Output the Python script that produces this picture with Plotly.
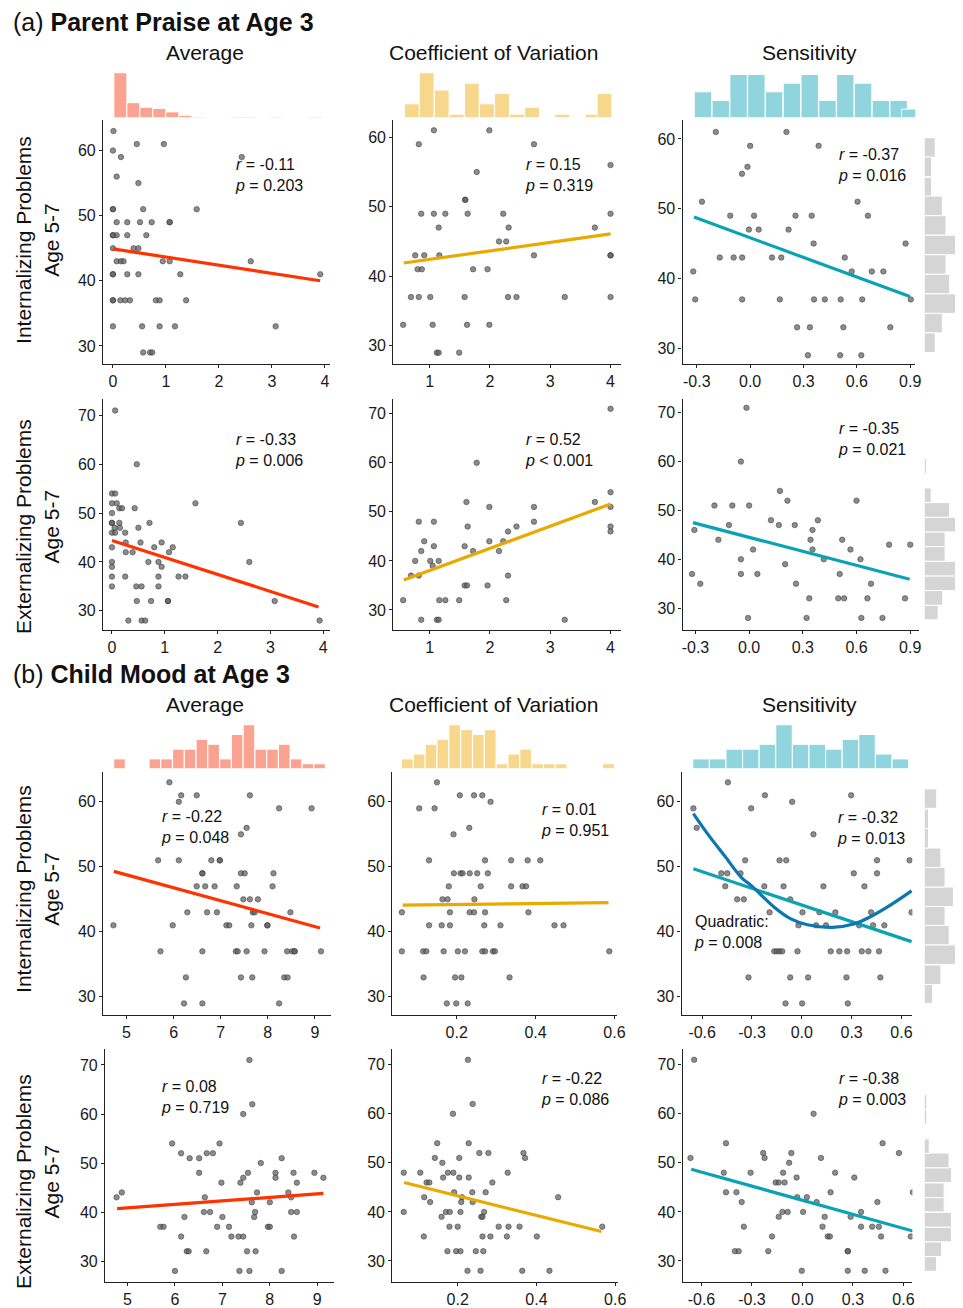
import plotly.graph_objects as go

W, H = 963, 1308
FONT = "Liberation Sans, Arial, Helvetica, sans-serif"

# ===================== DATA =====================
# (a) Parent Praise at Age 3 -- Internalizing
a_int_avg_x = [0.01,0,0.45,0.96,0.15,0.07,0.48,2.43,0,0.57,1.58,0.07,0.27,0.51,0.73,1.07,0,0.07,0.27,0.63,0,0.39,0.48,
               0.07,0.15,0.2,0.94,1.07,2.6,0,0.27,0.48,1.27,3.91,0,0.14,0.23,0.32,0.81,0.88,1.38,0,0.55,0.88,1.17,3.07,
               0.57,0.7,0.74,0,1.07,0,0,0]
a_int_avg_y = [63,60,61,61,59,56,55,59,51,51,51,49,49,49,49,49,47,47,47,47,45,45,45,43,43,43,43,43,43,41,41,41,41,41,
               37,37,37,37,37,37,37,33,33,33,33,33,29,29,29,51,49,47,41,37]
a_int_avg_fit_x = [0.0, 3.91]
a_int_avg_fit_y = [44.9, 40.0]

a_int_cv_x = [1.07,1.99,0.82,2.73,1.78,4.0,1.59,1.59,0.86,1.07,1.26,1.63,2.22,4.0,1.15,2.31,3.74,2.15,2.27,0.76,0.91,
              1.16,2.73,4.0,4.0,0.8,0.87,1.72,1.96,0.69,0.82,1.01,1.58,2.3,2.44,3.24,4.0,0.56,1.05,1.62,1.99,1.12,1.15,1.49]
a_int_cv_y = [61,61,59,59,55,56,51,51,49,49,49,49,49,49,47,47,47,45,45,43,43,43,43,43,43,41,41,41,41,37,37,37,37,37,
              37,37,37,33,33,33,33,29,29,29]
a_int_cv_fit_x = [0.57, 4.0]
a_int_cv_fit_y = [41.9, 46.1]

a_int_sen_x = [-0.193,0.204,0.0,0.385,-0.015,-0.046,-0.271,0.604,-0.112,0.022,0.255,0.346,0.662,-0.007,0.048,0.216,
               0.357,0.874,-0.171,-0.093,-0.045,0.123,0.175,0.532,-0.32,0.571,0.684,0.749,-0.309,-0.045,0.167,0.359,
               0.42,0.509,0.63,0.903,0.264,0.336,0.524,0.788,0.325,0.506,0.625]
a_int_sen_y = [61,61,59,59,56,55,51,51,49,49,49,49,49,47,47,47,45,45,43,43,43,43,43,43,41,41,41,41,37,37,37,37,37,
               37,37,37,33,33,33,33,29,29,29]
a_int_sen_fit_x = [-0.316, 0.898]
a_int_sen_fit_y = [48.8, 37.4]

# (a) Externalizing
a_ext_avg_x = [0.06,0.47,0,0.06,0,0.09,0.14,0.19,0.43,0,1.58,0,0,0.14,0.71,2.44,0.05,0.15,0.5,0,0.06,0.25,0,0.26,0.54,
               0.94,0.26,0.39,0.8,1.15,1.08,0.69,0.88,2.6,0.94,0,0,0,0.25,0.88,1.26,1.39,0,0.46,0.56,0.88,0.47,0.74,
               1.06,1.06,3.08,0.31,0.56,0.63,3.93]
a_ext_avg_y = [71,60,54,54,52,52,51,51,51,50,52,48,48,48,48,48,47,47,47,46,46,46,43,44,44,44,42,42,43,43,42,40,40,40,
               39,40,39,37,37,37,37,37,35,35,35,35,32,32,32,32,32,28,28,28,28]
a_ext_avg_fit_x = [0.0, 3.91]
a_ext_avg_fit_y = [44.4, 30.8]

a_ext_cv_x = [4.0,1.78,4.0,1.61,3.74,4.0,1.99,2.73,0.82,1.07,2.73,1.63,2.44,4.0,4.0,2.3,0.91,1.07,1.58,1.99,2.22,0.86,
              1.72,2.15,0.76,1.01,1.15,1.05,0.69,0.82,2.3,1.58,1.62,1.96,0.56,1.16,1.26,1.49,2.27,0.86,1.12,1.15,3.24]
a_ext_cv_y = [71,60,54,52,52,51,51,51,48,48,48,47,47,47,46,46,44,43,43,44,44,42,42,42,40,40,40,39,37,37,37,35,35,35,
              32,32,32,32,32,28,28,28,28]
a_ext_cv_fit_x = [0.57, 4.0]
a_ext_cv_fit_y = [36.1, 51.6]

a_ext_sen_x = [-0.015,-0.046,0.172,0.214,0.6,-0.194,-0.094,0.0,0.122,0.384,-0.113,0.166,0.255,-0.306,0.354,-0.172,
               0.343,0.52,0.782,0.9,0.022,0.354,0.566,-0.046,0.417,0.622,0.201,-0.319,-0.046,0.046,0.506,-0.273,0.262,
               0.681,0.336,0.498,0.531,0.661,0.871,-0.006,0.321,0.627,0.745]
a_ext_sen_y = [71,60,54,52,52,51,51,51,48,48,47,47,47,46,46,44,44,44,43,43,42,42,42,40,40,40,39,37,37,37,37,35,35,35,
               32,32,32,32,32,28,28,28,28]
a_ext_sen_fit_x = [-0.314, 0.897]
a_ext_sen_fit_y = [47.5, 35.9]

# (a) marginal histograms (top: predictors, right: outcomes)
a_avg_hist_x = [0.14,0.385,0.63,0.875,1.12,1.365,1.61,1.855,2.10,2.345,2.59,2.835,3.08,3.325,3.57,3.815]
a_avg_hist_n = [39,13,9,8,5,2,1,0,0,1,1,0,1,0,0,1]
a_cv_hist_x = [0.706,0.95,1.2,1.45,1.7,1.95,2.2,2.45,2.7,2.95,3.2,3.45,3.7,3.9]
a_cv_hist_n = [4,13,8,1,10,4,7,1,3,0,1,0,1,7]
a_sen_hist_x = [-0.265,-0.165,-0.065,0.035,0.135,0.235,0.335,0.435,0.535,0.635,0.735,0.835,0.9]
a_sen_hist_n = [3,2,5,5,3,4,5,2,5,4,2,2,1]
a_int_hist_y = [58.76,56.0,53.1,50.4,47.6,44.8,42.0,39.2,36.4,33.6,30.8]
a_int_hist_n = [3,2,2,5,6,9,6,7,9,5,3]
a_ext_hist_y = [29.1,32.1,35.1,38.1,41.1,44.1,47.1,50.1,53.1,59.1]
a_ext_hist_n = [6,8,14,14,9,9,14,11,3,1]

# (b) Child Mood at Age 3 -- Internalizing
b_int_avg_x = [5.91,6.16,6.11,6.49,7.62,8.24,8.93,7.55,7.43,5.67,6.11,6.80,6.98,6.61,6.61,7.43,7.51,8.12,6.49,6.67,
               6.87,7.34,8.10,7.48,7.62,7.79,6.29,6.71,6.92,7.68,7.72,8.48,4.72,5.98,7.12,7.18,7.65,7.99,5.72,6.61,
               7.32,7.36,7.55,7.93,8.41,8.52,8.57,9.13,6.26,7.43,7.67,8.35,8.42,6.22,6.61,8.24,6.98,7.99,8.57]
b_int_avg_y = [63,61,60,61,61,59,59,56,55,51,51,51,51,49,49,49,49,49,47,47,47,47,47,45,45,45,43,43,43,43,43,43,41,41,
               41,41,41,41,37,37,37,37,37,37,37,37,37,37,33,33,33,33,33,29,29,29,51,41,37]
b_int_avg_fit_x = [4.73, 9.11]
b_int_avg_fit_y = [49.3, 40.6]

b_int_cv_x = [0.150,0.208,0.244,0.265,0.105,0.144,0.286,0.232,0.192,0.130,0.272,0.338,0.380,0.412,0.193,0.210,0.215,
              0.233,0.252,0.279,0.180,0.261,0.338,0.367,0.376,0.164,0.177,0.245,0.061,0.183,0.233,0.244,0.272,0.382,
              0.130,0.162,0.183,0.270,0.311,0.448,0.471,0.061,0.115,0.123,0.167,0.203,0.221,0.265,0.272,0.292,0.297,
              0.587,0.116,0.196,0.212,0.334,0.175,0.199,0.228]
b_int_cv_y = [63,61,61,61,59,59,60,56,55,51,51,51,51,51,49,49,49,49,49,49,47,47,47,47,47,45,45,45,43,43,43,43,43,43,
              41,41,41,41,41,41,41,37,37,37,37,37,37,37,37,37,37,37,33,33,33,33,29,29,29]
b_int_cv_fit_x = [0.063, 0.585]
b_int_cv_fit_y = [44.1, 44.5]

b_int_sen_x = [-0.445,-0.222,0.297,-0.653,-0.305,-0.058,-0.633,0.07,-0.341,-0.134,-0.094,0.453,0.649,-0.485,-0.449,
               -0.369,0.313,0.453,-0.461,-0.226,-0.110,0.130,0.377,-0.389,-0.349,-0.07,-0.194,0.004,0.106,0.202,0.417,
               0.661,-0.02,0.086,0.146,0.345,0.429,0.497,-0.166,-0.15,-0.134,-0.118,-0.026,0.174,0.226,0.273,0.361,
               0.401,0.465,-0.321,-0.07,0.038,0.269,0.473,-0.098,0.002,0.277]
b_int_sen_y = [63,61,61,59,59,60,56,55,51,51,51,51,51,49,49,49,49,49,47,47,47,47,47,45,45,45,43,43,43,43,43,43,41,41,
               41,41,41,41,37,37,37,37,37,37,37,37,37,37,37,33,33,33,33,33,29,29,29]
b_int_sen_fit_x = [-0.653, 0.661]
b_int_sen_fit_y = [49.7, 38.5]
b_int_sen_quad_x = [-0.653,-0.565,-0.465,-0.365,-0.299,-0.166,-0.066,0.034,0.184,0.313,0.433,0.533,0.661]
b_int_sen_quad_y = [58.2,55.0,51.7,48.4,47.0,43.8,42.0,41.1,40.7,41.2,42.6,44.1,46.3]

# (b) Externalizing
b_ext_avg_x = [4.77,4.88,7.57,7.63,7.44,5.94,6.94,6.13,6.31,6.51,6.67,6.80,8.25,7.81,6.51,7.54,8.12,8.50,8.94,7.44,
               8.12,9.13,6.98,7.38,8.57,7.73,8.39,6.63,8.45,7.62,8.0,6.20,7.0,7.67,6.61,6.74,7.69,8.45,8.57,5.69,5.76,
               6.89,7.14,7.96,8.0,6.13,7.19,7.34,7.44,8.51,6.25,6.29,6.66,7.52,7.70,6.0,7.36,7.57,8.25]
b_ext_avg_y = [43,44,71,62,60,54,54,52,51,51,52,52,51,50,48,48,48,48,48,47,47,47,46,46,46,44,44,43,43,42,42,39,39,39,
               40,40,40,40,40,37,37,37,37,37,37,35,35,35,35,35,32,32,32,32,32,28,28,28,28]
b_ext_avg_fit_x = [4.78, 9.13]
b_ext_avg_fit_y = [40.7, 43.8]

b_ext_cv_x = [0.226,0.238,0.188,0.148,0.228,0.255,0.278,0.367,0.371,0.142,0.204,0.161,0.063,0.105,0.175,0.189,0.327,
              0.163,0.204,0.228,0.121,0.128,0.288,0.191,0.237,0.271,0.115,0.211,0.455,0.130,0.209,0.238,0.063,0.170,
              0.180,0.207,0.267,0.159,0.260,0.263,0.179,0.2,0.304,0.329,0.357,0.567,0.114,0.263,0.283,0.325,0.401,
              0.174,0.196,0.207,0.246,0.265,0.225,0.258,0.364,0.433]
b_ext_cv_y = [71,62,60,54,54,52,52,52,51,51,51,50,48,48,48,48,48,47,47,47,46,46,46,44,44,44,43,43,43,42,42,42,40,40,
              40,40,40,39,39,39,37,37,37,37,37,37,35,35,35,35,35,32,32,32,32,32,28,28,28,28]
b_ext_cv_fit_x = [0.064, 0.565]
b_ext_cv_fit_y = [46.0, 36.0]

b_ext_sen_x = [-0.643,0.066,-0.454,0.476,-0.233,-0.066,0.573,-0.665,-0.225,0.11,-0.079,-0.467,-0.308,-0.115,0.194,
               -0.035,0.308,-0.159,-0.141,-0.106,-0.454,-0.392,0.167,0.656,-0.031,0.026,0.084,0.445,-0.361,-0.119,
               -0.088,0.004,0.348,-0.141,0.132,0.286,-0.348,0.119,0.348,0.414,0.454,-0.181,0.15,0.163,0.467,0.643,
               -0.401,-0.379,-0.203,0.269,0.269,-0.004,0.269,0.37,0.493]
b_ext_sen_y = [71,60,54,54,52,52,52,51,51,51,50,48,48,48,48,47,47,46,46,46,44,44,44,44,43,43,42,42,42,40,40,40,40,39,
               39,39,37,37,37,37,37,35,35,35,35,35,32,32,32,32,32,28,28,28,28]
b_ext_sen_fit_x = [-0.661, 0.656]
b_ext_sen_fit_y = [48.7, 36.1]

# (b) marginal histograms
b_avg_hist_x = [4.85,5.10,5.35,5.60,5.85,6.10,6.35,6.60,6.85,7.10,7.35,7.60,7.85,8.10,8.35,8.60,8.85,9.10]
b_avg_hist_n = [2,0,0,2,2,4,4,6,5,2,7,9,4,4,5,2,1,1]
b_cv_hist_x = [0.075,0.105,0.135,0.165,0.195,0.225,0.255,0.285,0.315,0.345,0.375,0.405,0.435,0.465,0.495,0.525,0.555,0.585]
b_cv_hist_n = [2,3,5,6,9,8,7,8,1,3,4,1,1,1,0,0,0,1]
b_sen_hist_x = [-0.607,-0.507,-0.407,-0.307,-0.207,-0.107,-0.007,0.093,0.193,0.293,0.393,0.493,0.593]
b_sen_hist_n = [2,2,4,4,5,9,5,5,4,6,7,3,2]
b_int_hist_y = [30.5,33.4,36.5,39.5,42.5,45.4,48.4,51.4,54.4,57.4,60.5]
b_int_hist_n = [2,4,8,6,5,7,5,4,1,1,3]
b_ext_hist_y = [29.4,32.4,35.4,38.4,41.5,44.4,47.5,50.5,53.4,59.4,62.4]
b_ext_hist_n = [5,7,11,11,8,8,11,10,2,1,1]

col_titles = ["Average", "Coefficient of Variation", "Sensitivity"]
row_titles = ["Internalizing Problems<br>Age 5-7", "Externalizing Problems<br>Age 5-7"]
sens_ticks_a = [-0.3, 0.0, 0.3, 0.6, 0.9]
sens_ticks_b = [-0.6, -0.3, 0.0, 0.3, 0.6]

# ===================== STYLE =====================
C_AVG_LINE, C_AVG_HIST = "#FF3300", "#FBA291"
C_CV_LINE, C_CV_HIST = "#E8AA00", "#F6D78C"
C_SEN_LINE, C_SEN_HIST = "#0AA3B3", "#90D4DD"
C_QUAD = "#0B76B0"
C_GREY = "#D5D5D5"
AXC = "#222222"

fig = go.Figure()
lay = dict(width=W, height=H, autosize=False, margin=dict(l=0, r=0, t=0, b=0, pad=0), paper_bgcolor="white",
           plot_bgcolor="rgba(0,0,0,0)", showlegend=False, font=dict(family=FONT, color="#111"))
annots = []


def fx(p):
    return p / W


def fy(p):
    return 1 - p / H


counter = [0]


def new_id():
    counter[0] += 1
    return counter[0]


def nm(prefix, n):
    return prefix + ("" if n == 1 else str(n))


def fmt(v):
    return f"{v:.1f}"


def add_panel(xd, yd, xr, yr, xtv, ytv, px, py, fitx, fity, color, xtt=None):
    n = new_id()
    common = dict(showline=True, linecolor=AXC, linewidth=1.2, ticks="outside", ticklen=3, tickwidth=1,
                  tickcolor=AXC, showgrid=False, zeroline=False, tickfont=dict(size=16, color="#1a1a1a"),
                  fixedrange=True)
    lay[nm("xaxis", n)] = dict(domain=[fx(xd[0]), fx(xd[1])], range=xr, anchor=nm("y", n), tickvals=xtv,
                               ticktext=xtt if xtt else [str(v) for v in xtv], **common)
    lay[nm("yaxis", n)] = dict(domain=[fy(yd[1]), fy(yd[0])], range=yr, anchor=nm("x", n), tickvals=ytv,
                               ticktext=[str(v) for v in ytv], **common)
    fig.add_trace(go.Scatter(x=px, y=py, mode="markers", xaxis=nm("x", n), yaxis=nm("y", n), hoverinfo="skip",
                             marker=dict(size=5.5, color="rgba(95,95,95,0.72)",
                                         line=dict(color="rgba(45,45,45,0.8)", width=0.6))))
    fig.add_trace(go.Scatter(x=fitx, y=fity, mode="lines", xaxis=nm("x", n), yaxis=nm("y", n), hoverinfo="skip",
                             line=dict(color=color, width=3.2)))
    return n


def add_top_hist(n, cx, cnt, width, color, yd, ymax):
    m = new_id()
    lay[nm("yaxis", m)] = dict(domain=[fy(yd[1]), fy(yd[0])], range=[0, ymax], anchor=nm("x", n), visible=False,
                               fixedrange=True)
    fig.add_trace(go.Bar(x=cx, y=cnt, width=width, xaxis=nm("x", n), yaxis=nm("y", m), hoverinfo="skip",
                         marker=dict(color=color, line=dict(color="white", width=1))))


def add_right_hist(n, cy, cnt, width, xmax):
    m = new_id()
    lay[nm("xaxis", m)] = dict(domain=[fx(932), 1.0], range=[0, xmax], anchor=nm("y", n), visible=False,
                               fixedrange=True)
    fig.add_trace(go.Bar(y=cy, x=cnt, width=width, orientation="h", xaxis=nm("x", m), yaxis=nm("y", n),
                         hoverinfo="skip", marker=dict(color=C_GREY, line=dict(color="white", width=1))))


def stat_text(x, yc, r, p):
    annots.append(dict(x=fx(x), y=fy(yc), xref="paper", yref="paper", xanchor="left", yanchor="middle",
                       align="left", showarrow=False, font=dict(size=16, color="#111"),
                       text=f"<i>r</i> = {r}<br><i>p</i> {p}"))


y4 = [30, 40, 50, 60]
y5 = [30, 40, 50, 60, 70]

# ---- row (a) internalizing ----
n1 = add_panel((103, 332), (120, 365), [-0.187, 4.093], [27.24, 64.75], [0, 1, 2, 3, 4], y4,
               a_int_avg_x, a_int_avg_y, a_int_avg_fit_x, a_int_avg_fit_y, C_AVG_LINE)
n2 = add_panel((396, 626), (120, 365), [0.397, 4.176], [27.38, 62.54], [1, 2, 3, 4], y4,
               a_int_cv_x, a_int_cv_y, a_int_cv_fit_x, a_int_cv_fit_y, C_CV_LINE)
n3 = add_panel((688, 923), (120, 365), [-0.380, 0.929], [27.76, 62.76], sens_ticks_a, y4,
               a_int_sen_x, a_int_sen_y, a_int_sen_fit_x, a_int_sen_fit_y, C_SEN_LINE,
               xtt=[fmt(v) for v in sens_ticks_a])
add_top_hist(n1, a_avg_hist_x, a_avg_hist_n, 0.245, C_AVG_HIST, (73, 118), 39)
add_top_hist(n2, a_cv_hist_x, a_cv_hist_n, 0.245, C_CV_HIST, (73, 118), 13)
add_top_hist(n3, a_sen_hist_x, a_sen_hist_n, 0.098, C_SEN_HIST, (73, 118), 5.2)
add_right_hist(n3, a_int_hist_y, a_int_hist_n, 2.8, 8.5)

# ---- row (a) externalizing ----
n4 = add_panel((103, 332), (400, 632), [-0.169, 4.125], [26.06, 73.4], [0, 1, 2, 3, 4], y5,
               a_ext_avg_x, a_ext_avg_y, a_ext_avg_fit_x, a_ext_avg_fit_y, C_AVG_LINE)
n5 = add_panel((396, 626), (400, 632), [0.397, 4.176], [25.9, 73.05], [1, 2, 3, 4], y5,
               a_ext_cv_x, a_ext_cv_y, a_ext_cv_fit_x, a_ext_cv_fit_y, C_CV_LINE)
n6 = add_panel((688, 927), (400, 632), [-0.372, 0.951], [25.51, 72.86], sens_ticks_a, y5,
               a_ext_sen_x, a_ext_sen_y, a_ext_sen_fit_x, a_ext_sen_fit_y, C_SEN_LINE,
               xtt=[fmt(v) for v in sens_ticks_a])
add_right_hist(n6, a_ext_hist_y, a_ext_hist_n, 3.0, 13.3)

# ---- row (b) internalizing ----
n7 = add_panel((103, 333), (774, 1018), [4.50, 9.34], [27.23, 64.65], [5, 6, 7, 8, 9], y4,
               b_int_avg_x, b_int_avg_y, b_int_avg_fit_x, b_int_avg_fit_y, C_AVG_LINE)
n8 = add_panel((395, 622), (774, 1018), [0.0368, 0.607], [27.23, 64.65], [0.2, 0.4, 0.6], y4,
               b_int_cv_x, b_int_cv_y, b_int_cv_fit_x, b_int_cv_fit_y, C_CV_LINE)
n9 = add_panel((687, 920), (774, 1018), [-0.724, 0.666], [27.23, 64.65], sens_ticks_b, y4,
               b_int_sen_x, b_int_sen_y, b_int_sen_fit_x, b_int_sen_fit_y, C_SEN_LINE,
               xtt=[fmt(v) for v in sens_ticks_b])
fig.add_trace(go.Scatter(x=b_int_sen_quad_x, y=b_int_sen_quad_y, mode="lines", line_shape="spline",
                         xaxis=nm("x", n9), yaxis=nm("y", n9), hoverinfo="skip",
                         line=dict(color=C_QUAD, width=3.2)))
add_top_hist(n7, b_avg_hist_x, b_avg_hist_n, 0.245, C_AVG_HIST, (727, 771), 9)
add_top_hist(n8, b_cv_hist_x, b_cv_hist_n, 0.0295, C_CV_HIST, (727, 771), 9)
add_top_hist(n9, b_sen_hist_x, b_sen_hist_n, 0.099, C_SEN_HIST, (727, 771), 9)
add_right_hist(n9, b_int_hist_y, b_int_hist_n, 3.0, 7.4)

# ---- row (b) externalizing ----
n10 = add_panel((105, 336), (1052, 1286), [4.526, 9.35], [25.73, 73.3], [5, 6, 7, 8, 9], y5,
                b_ext_avg_x, b_ext_avg_y, b_ext_avg_fit_x, b_ext_avg_fit_y, C_AVG_LINE)
n11 = add_panel((395, 623), (1052, 1286), [0.034, 0.6075], [25.7, 73.25], [0.2, 0.4, 0.6], y5,
                b_ext_cv_x, b_ext_cv_y, b_ext_cv_fit_x, b_ext_cv_fit_y, C_CV_LINE)
n12 = add_panel((688, 920), (1052, 1286), [-0.712, 0.653], [25.7, 73.25], sens_ticks_b, y5,
                b_ext_sen_x, b_ext_sen_y, b_ext_sen_fit_x, b_ext_sen_fit_y, C_SEN_LINE,
                xtt=[fmt(v) for v in sens_ticks_b])
add_right_hist(n12, b_ext_hist_y, b_ext_hist_n, 3.0, 12.4)

# ===================== TEXT =====================
stat_text(234, 176, "-0.11", "= 0.203")
stat_text(527, 176, "0.15", "= 0.319")
stat_text(843, 166, "-0.37", "= 0.016")
stat_text(234, 451, "-0.33", "= 0.006")
stat_text(527, 451, "0.52", "&lt; 0.001")
stat_text(843, 440, "-0.35", "= 0.021")
stat_text(159, 830, "-0.22", "= 0.048")
stat_text(543, 823, "0.01", "= 0.951")
stat_text(842, 831, "-0.32", "= 0.013")
stat_text(159, 1100, "0.08", "= 0.719")
stat_text(543, 1092, "-0.22", "= 0.086")
stat_text(843, 1092, "-0.38", "= 0.003")
annots.append(dict(x=fx(698), y=fy(935), xref="paper", yref="paper", xanchor="left", yanchor="middle",
                   align="left", showarrow=False, font=dict(size=16, color="#111"),
                   text="Quadratic:<br><i>p</i> = 0.008"))

for label, title, yc in [("(a)", "Parent Praise at Age 3", 22), ("(b)", "Child Mood at Age 3", 676)]:
    annots.append(dict(x=fx(10), y=fy(yc), xref="paper", yref="paper", xanchor="left", yanchor="middle",
                       showarrow=False, font=dict(size=25, color="#111"),
                       text=f"{label} <b>{title}</b>"))

for yc in (53, 707):
    for t, xc in zip(col_titles, (206, 497, 816)):
        annots.append(dict(x=fx(xc), y=fy(yc), xref="paper", yref="paper", xanchor="center", yanchor="middle",
                           showarrow=False, font=dict(size=21, color="#111"), text=t))

for t, yc in zip(row_titles * 2, (241, 528, 892, 1185)):
    annots.append(dict(x=fx(37), y=fy(yc), xref="paper", yref="paper", xanchor="center", yanchor="middle",
                       showarrow=False, textangle=-90, font=dict(size=21, color="#111"), text=t))

lay["annotations"] = annots
fig.update_layout(**lay)
fig.write_html(
    "out.html",
    config={"displayModeBar": False, "responsive": False},
    post_script=("document.documentElement.style.margin='0';document.documentElement.style.overflow='hidden';"
                 "document.body.style.margin='0';document.body.style.padding='0';"
                 "document.body.style.overflow='hidden';"),
)
